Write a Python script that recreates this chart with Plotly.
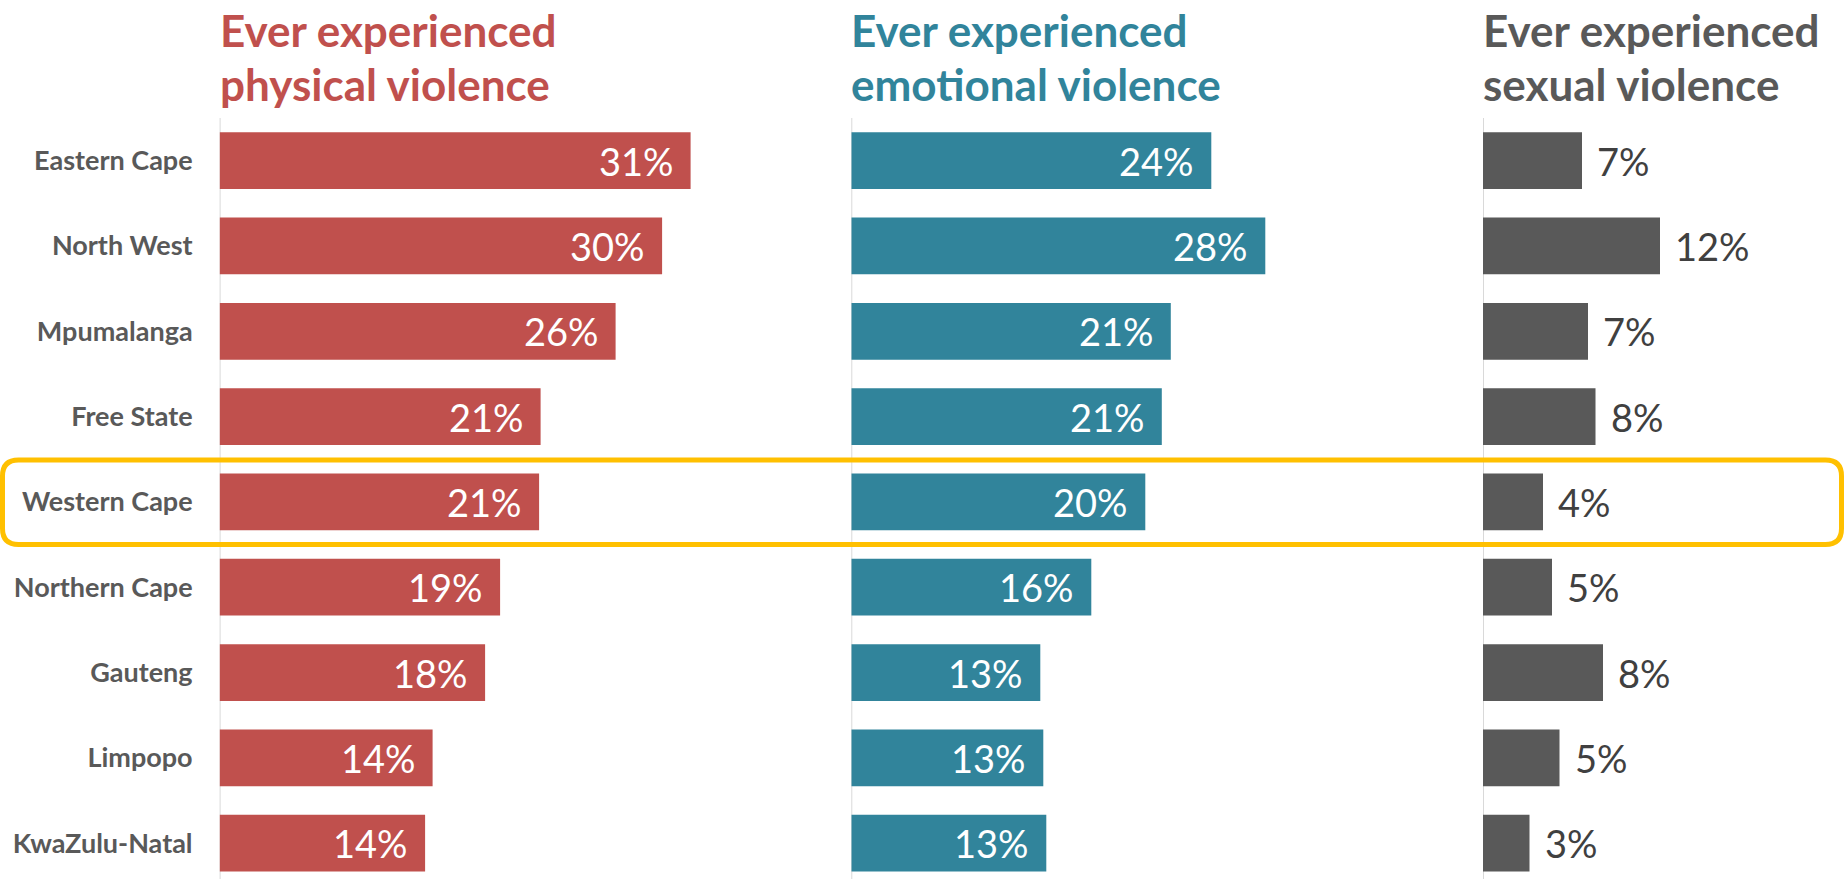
import plotly.graph_objects as go

# Datos (porcentaje de personas por provincia)
regions = ['Eastern Cape', 'North West', 'Mpumalanga', 'Free State', 'Western Cape',
           'Northern Cape', 'Gauteng', 'Limpopo', 'KwaZulu-Natal']

physical = [31.4, 29.5, 26.4, 21.4, 21.3, 18.7, 17.7, 14.2, 13.7]
emotional = [24.0, 27.6, 21.3, 20.7, 19.6, 16.0, 12.6, 12.8, 13.0]
sexual = [6.6, 11.8, 7.0, 7.5, 4.0, 4.6, 8.0, 5.1, 3.1]

physical_labels = ['31%', '30%', '26%', '21%', '21%', '19%', '18%', '14%', '14%']
emotional_labels = ['24%', '28%', '21%', '21%', '20%', '16%', '13%', '13%', '13%']
sexual_labels = ['7%', '12%', '7%', '8%', '4%', '5%', '8%', '5%', '3%']

title_lines = [('Ever experienced', 'physical violence'),
               ('Ever experienced', 'emotional violence'),
               ('Ever experienced', 'sexual violence')]

colors = ['#C0504D', '#31849B', '#595959']

W, H = 1844, 879
TOP = 118
PX_PER_PCT = 15.0
FONT = 'Lato, "Open Sans", sans-serif'

# posiciones en pixeles de la base de cada panel
panel_starts = [219.6, 851.3, 1483.0]
panel_widths = [560, 560, W - 1483.0]

fig = go.Figure()

series = [physical, emotional, sexual]
axis_ids = ['x', 'x2', 'x3']
for vals, col, ax in zip(series, colors, axis_ids):
    fig.add_trace(go.Bar(
        x=vals, y=regions, orientation='h', xaxis=ax, yaxis='y',
        marker=dict(color=col, line=dict(width=0)),
        hoverinfo='skip', showlegend=False
    ))

annotations = []
# etiquetas dentro de la barra (física y emocional)
for vals, labs, ax in [(physical, physical_labels, 'x'), (emotional, emotional_labels, 'x2')]:
    for v, lab, reg in zip(vals, labs, regions):
        annotations.append(dict(
            x=v, y=reg, xref=ax, yref='y', text=lab, showarrow=False,
            xanchor='right', yanchor='middle', xshift=-15,
            font=dict(family=FONT, size=38, color='white')
        ))
# etiquetas fuera de la barra (sexual)
for v, lab, reg in zip(sexual, sexual_labels, regions):
    annotations.append(dict(
        x=v, y=reg, xref='x3', yref='y', text=lab, showarrow=False,
        xanchor='left', yanchor='middle', xshift=13,
        font=dict(family=FONT, size=38, color='#404040')
    ))

# títulos de cada panel (una anotación por línea)
plot_h = H - TOP
for (l1, l2), col, x0 in zip(title_lines, colors, panel_starts):
    for txt, top_px in [(l1, 2.3), (l2, 55.8)]:
        annotations.append(dict(
            x=(x0 - 2) / W, y=(H - top_px) / plot_h, xref='paper', yref='paper',
            text='<b>' + txt + '</b>', showarrow=False, align='left',
            xanchor='left', yanchor='top',
            font=dict(family=FONT, size=44, color=col)
        ))

shapes = []
for ax in axis_ids:
    shapes.append(dict(
        type='line', xref=ax, yref='paper', x0=0, x1=0, y0=0, y1=1,
        line=dict(color='#D9D9D9', width=2), layer='below'
    ))

# recuadro amarillo redondeado alrededor de Western Cape
bx0, bx1 = 2.5 / W, 1841.5 / W
by0, by1 = (H - 544.5) / plot_h, (H - 460) / plot_h
rx, ry = 16 / W, 16 / plot_h
path = (f'M {bx0 + rx},{by1} L {bx1 - rx},{by1} Q {bx1},{by1} {bx1},{by1 - ry} '
        f'L {bx1},{by0 + ry} Q {bx1},{by0} {bx1 - rx},{by0} '
        f'L {bx0 + rx},{by0} Q {bx0},{by0} {bx0},{by0 + ry} '
        f'L {bx0},{by1 - ry} Q {bx0},{by1} {bx0 + rx},{by1} Z')
shapes.append(dict(type='path', xref='paper', yref='paper', path=path,
                   line=dict(color='#FFC000', width=5), fillcolor='rgba(0,0,0,0)'))

layout_axes = {}
for i, (ax, x0, w) in enumerate(zip(axis_ids, panel_starts, panel_widths)):
    name = 'xaxis' if i == 0 else f'xaxis{i + 1}'
    layout_axes[name] = dict(
        domain=[x0 / W, (x0 + w) / W], range=[0, w / PX_PER_PCT],
        anchor='y', visible=False, showgrid=False, zeroline=False, fixedrange=True
    )

fig.update_layout(
    width=W, height=H,
    margin=dict(l=0, r=0, t=TOP, b=0),
    paper_bgcolor='white', plot_bgcolor='white',
    bargap=0.335,
    yaxis=dict(
        type='category', categoryorder='array', categoryarray=regions,
        range=[8.42, -0.5], anchor='x', showgrid=False, zeroline=False,
        showline=False, ticks='', ticklabelstandoff=26, fixedrange=True,
        tickfont=dict(family=FONT, size=27, color='#595959', weight='bold')
    ),
    annotations=annotations,
    shapes=shapes,
    **layout_axes
)

# quitar el margen por defecto del body para que la figura empiece en (0,0)
fig.write_html('out.html', config={'displayModeBar': False},
               post_script="document.body.style.margin='0';")
